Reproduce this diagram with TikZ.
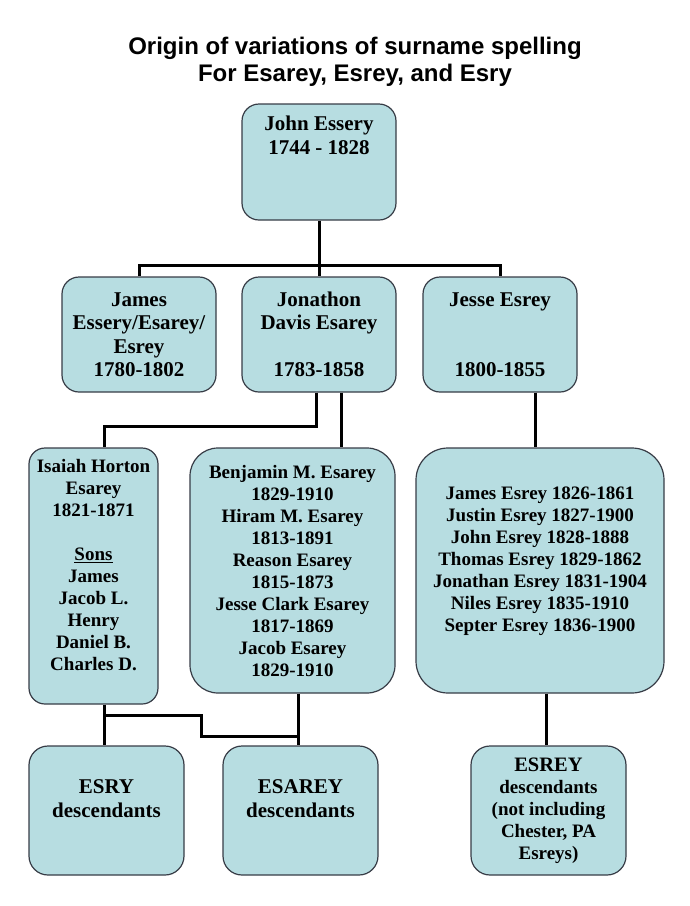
\documentclass[tikz,border=0pt]{standalone}
\usepackage{fontspec}
\setmainfont{Liberation Serif}
\newfontfamily\headfont{Liberation Sans}
\definecolor{boxfill}{RGB}{183,221,225}
\definecolor{boxline}{RGB}{55,60,70}
\newcommand{\bigtype}{\fontsize{21}{23.5}\selectfont\bfseries}
\newcommand{\smalltype}{\fontsize{19}{22}\selectfont\bfseries}

\begin{document}
\begin{tikzpicture}
  [x=1pt,y=-1pt,
   fam/.style={draw=boxline,fill=boxfill,line width=1.2pt,rounded corners=#1,
     align=center,inner sep=0pt,font=\bigtype},
   link/.style={line width=3pt}]
  \useasboundingbox (0,0) rectangle (690,906);

  \node[align=center,inner sep=0pt,font=\headfont\fontsize{24}{27}\selectfont\bfseries] (title) at (355,62)
    {Origin of variations of surname spelling\\For Esarey, Esrey, and Esry};

  \node[fam=17,minimum width=154pt,minimum height=116pt] (john) at (319,162)
    {John Essery\\1744 - 1828\\[30pt]~};

  \node[fam=17,minimum width=154pt,minimum height=115pt] (james) at (139,334.5)
    {James\\Essery/Esarey/\\Esrey\\1780-1802};
  \node[fam=17,minimum width=154pt,minimum height=115pt] (jonathon) at (319,334.5)
    {Jonathon\\Davis Esarey\\~\\1783-1858};
  \node[fam=17,minimum width=154pt,minimum height=115pt] (jesse) at (500,334.5)
    {Jesse Esrey\\~\\~\\1800-1855};

  \node[fam=16,minimum width=129pt,minimum height=256pt,font=\smalltype] (isaiah) at (93.5,576)
    {Isaiah Horton\\Esarey\\1821-1871\\~\\\underline{Sons}\\James\\Jacob L.\\Henry\\Daniel B.\\Charles D.\\~};
  \node[fam=28,minimum width=205pt,minimum height=245pt,font=\smalltype] (benjamin) at (292.5,570.5)
    {Benjamin M. Esarey\\1829-1910\\Hiram M. Esarey\\1813-1891\\Reason Esarey\\1815-1873\\Jesse Clark Esarey\\1817-1869\\Jacob Esarey\\1829-1910};
  \node[fam=32,minimum width=248pt,minimum height=245pt,font=\smalltype] (jessesons) at (540,570.5)
    {James Esrey 1826-1861\\Justin Esrey 1827-1900\\John Esrey 1828-1888\\Thomas Esrey 1829-1862\\Jonathan Esrey 1831-1904\\Niles Esrey 1835-1910\\Septer Esrey 1836-1900\\~};

  \node[fam=19,minimum width=155pt,minimum height=129pt] (esry) at (106.5,810.5)
    {ESRY\\descendants\\~};
  \node[fam=19,minimum width=155pt,minimum height=129pt] (esarey) at (300.5,810.5)
    {ESAREY\\descendants\\~};
  \node[fam=19,minimum width=155pt,minimum height=129pt,font=\smalltype] (esrey) at (548.5,810.5)
    {{\fontsize{20.5}{22}\selectfont ESREY}\\descendants\\(not including\\Chester, PA\\Esreys)};

  % family lines
  \coordinate (bar) at (0,265);
  \draw[link] (john) -- (jonathon);
  \draw[link] (james.north) -- (james.north |- bar) -- (jesse.north |- bar) -- (jesse.north);

  \draw[link] ([xshift=-3pt]jonathon.south) -- ++(0,34) -| ([xshift=10.5pt]isaiah.north);
  \draw[link] ([xshift=22pt]jonathon.south) -- ([xshift=48.5pt]benjamin.north);
  \draw[link] ([xshift=35pt]jesse.south) -- ([xshift=-5pt]jessesons.north);

  \draw[link] ([xshift=10.5pt]isaiah.south) -- ([xshift=-2.5pt]esry.north);
  \draw[link] ([xshift=5.5pt]benjamin.south) -- ([xshift=-2.5pt]esarey.north);
  \draw[link] ([shift={(10.5,11)}]isaiah.south) -- ++(97,0) |- ([shift={(-2.5,-9)}]esarey.north);
  \draw[link] ([xshift=6pt]jessesons.south) -- ([xshift=-2.5pt]esrey.north);

\end{tikzpicture}
\end{document}
